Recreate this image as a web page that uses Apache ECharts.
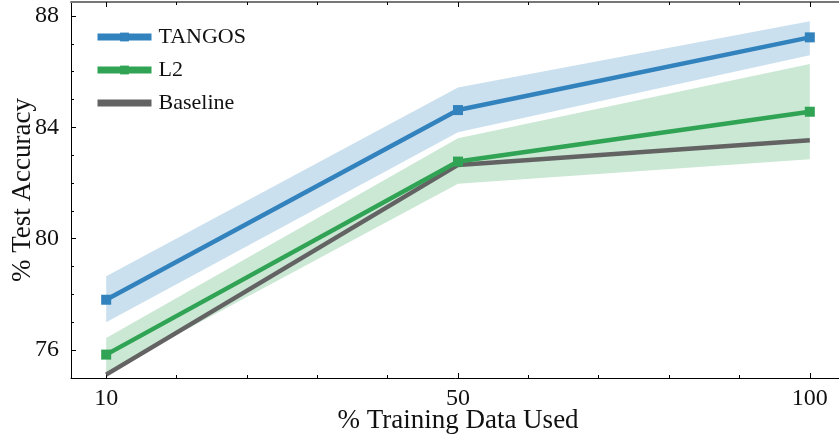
<!DOCTYPE html>
<html>
<head>
<meta charset="utf-8">
<script src="https://cdn.jsdelivr.net/npm/echarts@6/dist/echarts.min.js"></script>
<style>
  html, body { margin: 0; padding: 0; background: #fff; }
  #chart { width: 839px; height: 440px; }
</style>
</head>
<body>
<div id="chart"></div>
<script>
// Training-data fractions (shown as evenly spaced positions 0, 1, 2)
const xLabels = ['10', '50', '100'];
const xPos = [0, 1, 2];

// Test accuracy (%) per method, with spread bands
const tangos   = [77.81, 84.62, 87.23];
const tangosLo = [77.00, 83.82, 86.59];
const tangosHi = [78.65, 85.43, 87.81];

const l2   = [75.84, 82.77, 84.56];
const l2Lo = [75.20, 81.97, 82.85];
const l2Hi = [76.44, 83.61, 86.27];

const baseline = [75.12, 82.65, 83.54];

// Axis tick positions
const yMajor = [76, 80, 84, 88];
const yMinor = [75, 77, 78, 79, 81, 82, 83, 85, 86, 87];
const xMinor = [0.2, 0.4, 0.6, 0.8, 1.2, 1.4, 1.6, 1.8];

const BLUE = '#3182bd', GREEN = '#31a354', GREY = '#636363';
const FONT = '"Liberation Serif", "DejaVu Serif", serif';

function bandSeries(lo, hi, color) {
  return {
    type: 'custom',
    silent: true,
    z: 1,
    data: xPos.map((x, i) => [x, lo[i], hi[i]]),
    encode: { x: 0, y: [1, 2] },
    renderItem(params, api) {
      if (params.dataIndex !== 0) return null;
      const pts = [];
      for (let i = 0; i < xPos.length; i++) pts.push(api.coord([xPos[i], lo[i]]));
      for (let i = xPos.length - 1; i >= 0; i--) pts.push(api.coord([xPos[i], hi[i]]));
      return { type: 'polygon', shape: { points: pts }, style: { fill: color, opacity: 0.25 } };
    }
  };
}

function lineSeries(name, vals, color, withMarker, z) {
  return {
    name, type: 'line', z,
    data: xPos.map((x, i) => [x, vals[i]]),
    symbol: withMarker ? 'rect' : 'none',
    symbolSize: 10,
    showSymbol: withMarker,
    lineStyle: { color, width: 4.5 },
    itemStyle: { color },
    emphasis: { disabled: true }
  };
}

const tickLine = { color: '#000', width: 1 };

function xAxisDef(position, values, len, opts = {}) {
  return Object.assign({
    type: 'value', position, min: -0.1, max: 2.1,
    splitLine: { show: false },
    axisLine: { show: false, onZero: false },
    axisTick: { show: true, inside: true, length: len, customValues: values, lineStyle: tickLine },
    axisLabel: { show: false }
  }, opts);
}
function yAxisDef(position, values, len, opts = {}) {
  return Object.assign({
    type: 'value', position, min: 75, max: 88.5,
    splitLine: { show: false },
    axisLine: { show: false, onZero: false },
    axisTick: { show: true, inside: true, length: len, customValues: values, lineStyle: tickLine },
    axisLabel: { show: false }
  }, opts);
}

const chart = echarts.init(document.getElementById('chart'), null, { renderer: 'canvas' });
chart.setOption({
  animation: false,
  backgroundColor: '#fff',
  grid: { left: 71, top: 2, width: 774, height: 376, containLabel: false, outerBoundsMode: 'none' },
  legend: {
    data: [
      { name: 'TANGOS' },
      { name: 'L2' },
      { name: 'Baseline', itemStyle: { opacity: 0 } }
    ],
    orient: 'vertical',
    left: 89, top: 21,
    itemWidth: 54, itemHeight: 11, itemGap: 11,
    lineStyle: { width: 7 },
    textStyle: { fontFamily: FONT, fontSize: 22, color: '#111', lineHeight: 22, padding: [0, 0, 0, 2] },
    selectedMode: false
  },
  xAxis: [
    xAxisDef('bottom', xPos, 5, {
      axisLine: { show: true, onZero: false, lineStyle: tickLine },
      axisLabel: {
        show: true, customValues: xPos, margin: 9,
        formatter: v => xLabels[Math.round(v)],
        fontFamily: FONT, fontSize: 24, color: '#111'
      },
      name: '% Training Data Used', nameLocation: 'middle', nameGap: 29, nameMoveOverlap: false,
      nameTextStyle: { fontFamily: FONT, fontSize: 27, color: '#111' }
    }),
    xAxisDef('bottom', xMinor, 3),
    xAxisDef('top', xPos, 5, { axisLine: { show: true, onZero: false, lineStyle: { color: '#777', width: 2 } } }),
    xAxisDef('top', xMinor, 3)
  ],
  yAxis: [
    yAxisDef('left', yMajor, 5, {
      axisLine: { show: true, onZero: false, lineStyle: tickLine },
      axisLabel: {
        show: true, customValues: yMajor, margin: 12,
        fontFamily: FONT, fontSize: 24, color: '#111'
      },
      name: '% Test Accuracy', nameLocation: 'middle', nameGap: 35, nameMoveOverlap: false,
      nameTextStyle: { fontFamily: FONT, fontSize: 27, color: '#111' }
    }),
    yAxisDef('left', yMinor, 3),
    yAxisDef('right', yMajor, 5, { axisLine: { show: true, onZero: false, lineStyle: tickLine } }),
    yAxisDef('right', yMinor, 3)
  ],
  series: [
    bandSeries(tangosLo, tangosHi, BLUE),
    bandSeries(l2Lo, l2Hi, GREEN),
    lineSeries('Baseline', baseline, GREY, false, 3),
    lineSeries('L2', l2, GREEN, true, 4),
    lineSeries('TANGOS', tangos, BLUE, true, 5)
  ]
});
</script>
</body>
</html>
